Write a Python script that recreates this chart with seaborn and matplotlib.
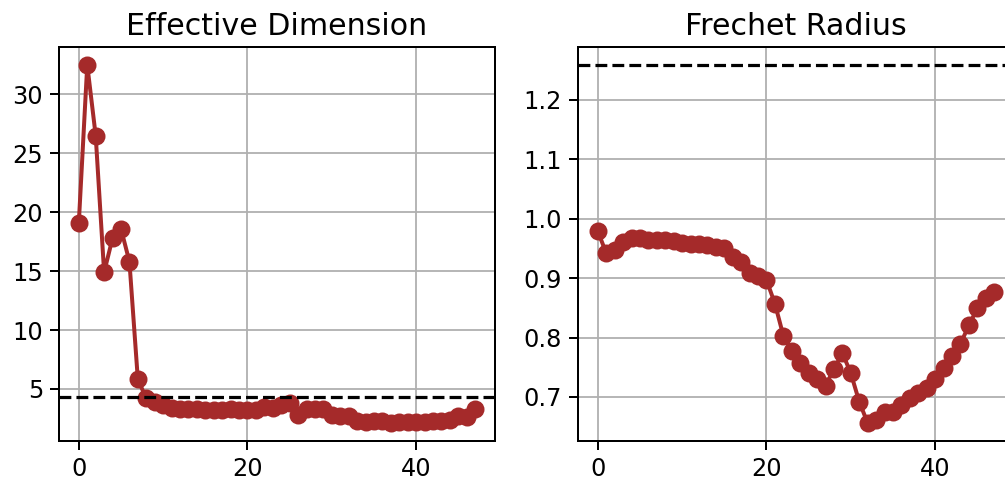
import numpy as np
import pandas as pd
import matplotlib
matplotlib.use("Agg")
import matplotlib.pyplot as plt
import seaborn as sns

steps = list(range(48))

effective_dimension = [
    19.1, 32.5, 26.5, 14.9, 17.8, 18.6, 15.8, 5.8, 4.2, 3.9,
    3.6, 3.4, 3.3, 3.3, 3.3, 3.2, 3.2, 3.2, 3.3, 3.2,
    3.2, 3.2, 3.5, 3.4, 3.6, 3.8, 2.8, 3.3, 3.3, 3.3,
    2.8, 2.7, 2.7, 2.3, 2.2, 2.3, 2.3, 2.1, 2.2, 2.2,
    2.2, 2.2, 2.3, 2.3, 2.4, 2.7, 2.6, 3.3,
]
effective_dimension_ref = 4.3

frechet_radius = [
    0.979, 0.942, 0.947, 0.961, 0.967, 0.967, 0.964, 0.965, 0.965, 0.962,
    0.960, 0.958, 0.958, 0.956, 0.953, 0.950, 0.935, 0.928, 0.908, 0.903,
    0.897, 0.857, 0.803, 0.778, 0.757, 0.740, 0.730, 0.719, 0.747, 0.774,
    0.740, 0.692, 0.656, 0.661, 0.674, 0.675, 0.687, 0.698, 0.707, 0.715,
    0.731, 0.748, 0.769, 0.789, 0.821, 0.849, 0.866, 0.877,
]
frechet_radius_ref = 1.259

titles = ["Effective Dimension", "Frechet Radius"]

DPI = 144
fig = plt.figure(figsize=(1005 / DPI, 481 / DPI), dpi=DPI)
plt.rcParams["font.family"] = ["DejaVu Sans"]

w = 436 / 1005
h = 394 / 481
b = 40 / 481
ax1 = fig.add_axes([59 / 1005, b, w, h])
ax2 = fig.add_axes([578 / 1005, b, w, h])

color = "brown"
for ax, vals, ref, title in [
    (ax1, effective_dimension, effective_dimension_ref, titles[0]),
    (ax2, frechet_radius, frechet_radius_ref, titles[1]),
]:
    df = pd.DataFrame({"step": steps, "value": vals})
    sns.lineplot(data=df, x="step", y="value", ax=ax, color=color,
                 marker="o", markersize=8, markeredgecolor=color,
                 markeredgewidth=1, linewidth=2, zorder=3)
    ax.axhline(ref, color="black", linestyle="--", linewidth=1.6, zorder=4)
    ax.set_title(title, fontsize=15)
    ax.set_xlabel("")
    ax.set_ylabel("")
    ax.grid(True, color="#b0b0b0", linewidth=0.9)
    ax.set_axisbelow(True)
    ax.tick_params(labelsize=12, length=4.5, width=1.0)
    for s in ax.spines.values():
        s.set_linewidth(1.0)
    ax.set_xticks([0, 20, 40])

ax2.set_yticks([0.7, 0.8, 0.9, 1.0, 1.1, 1.2])

fig.savefig("out.png", dpi=DPI)
